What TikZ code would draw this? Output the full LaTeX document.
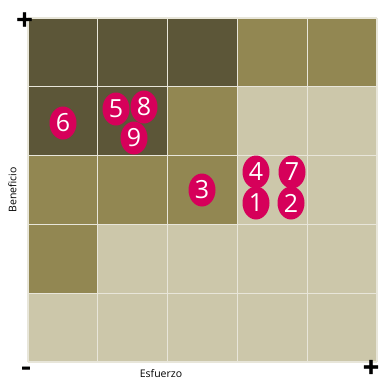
\documentclass[tikz,border=0pt]{standalone}
\usepackage{fontspec}
\usetikzlibrary{shapes.geometric}
\setmainfont{Open Sans}
\newfontfamily\symfont[FakeBold=2.5]{DejaVu Sans Bold}
\newfontfamily\minfont[FakeBold=4]{DejaVu Sans Bold}
\definecolor{cdark}{RGB}{92,86,56}
\definecolor{cmid}{RGB}{146,135,82}
\definecolor{clight}{RGB}{204,199,170}
\definecolor{cgrid}{RGB}{232,230,218}
\definecolor{cmag}{RGB}{214,0,90}
\begin{document}
\begin{tikzpicture}[x=1pt,y=-1pt,
  item/.style={ellipse,fill=cmag,minimum width=27pt,minimum height=33pt,inner sep=0pt,text=white,font=\fontsize{25}{25}\selectfont},
  axlabel/.style={font=\fontsize{10.5}{11}\selectfont,text=black},
  sym/.style={font=\symfont\fontsize{22}{22}\selectfont,inner sep=0pt}]
\useasboundingbox (0,0) rectangle (380,381);
\fill[white] (0,0) rectangle (380,381);
\def\cw{69.8}\def\ch{68.8}
\foreach \r/\row in {0/{cdark,cdark,cdark,cmid,cmid},1/{cdark,cdark,cmid,clight,clight},2/{cmid,cmid,cmid,clight,clight},3/{cmid,clight,clight,clight,clight},4/{clight,clight,clight,clight,clight}}{
  \foreach \c [count=\i from 0] in \row {
    \fill[\c] (28+\i*\cw,18+\r*\ch) rectangle ++(\cw,\ch);
  }
}
\foreach \i in {0,...,5}{
  \draw[cgrid,line width=1.2pt] (28+\i*\cw,18) -- (28+\i*\cw,362);
  \draw[cgrid,line width=1.2pt] (28,18+\i*\ch) -- (377,18+\i*\ch);
}
\node[item] (n6) at (63,123) {6};
\node[item] (n5) at (116,109) {5};
\node[item] (n8) at (144,107) {8};
\node[item] (n9) at (134,138) {9};
\node[item] (n3) at (202,190) {3};
\node[item] (n4) at (256,172) {4};
\node[item] (n7) at (292,172) {7};
\node[item] (n1) at (256,203) {1};
\node[item] (n2) at (291,203) {2};
\node[axlabel,rotate=90] (ben) at (12.5,190) {Beneficio};
\node[axlabel] (esf) at (161,374) {Esfuerzo};
\node[sym] (ptl) at (24.5,19.5) {+};
\node[sym] (pbr) at (371,367) {+};
\node[inner sep=0pt,font=\minfont\fontsize{18}{18}\selectfont] (mbl) at (26,370) {–};
\end{tikzpicture}
\end{document}
